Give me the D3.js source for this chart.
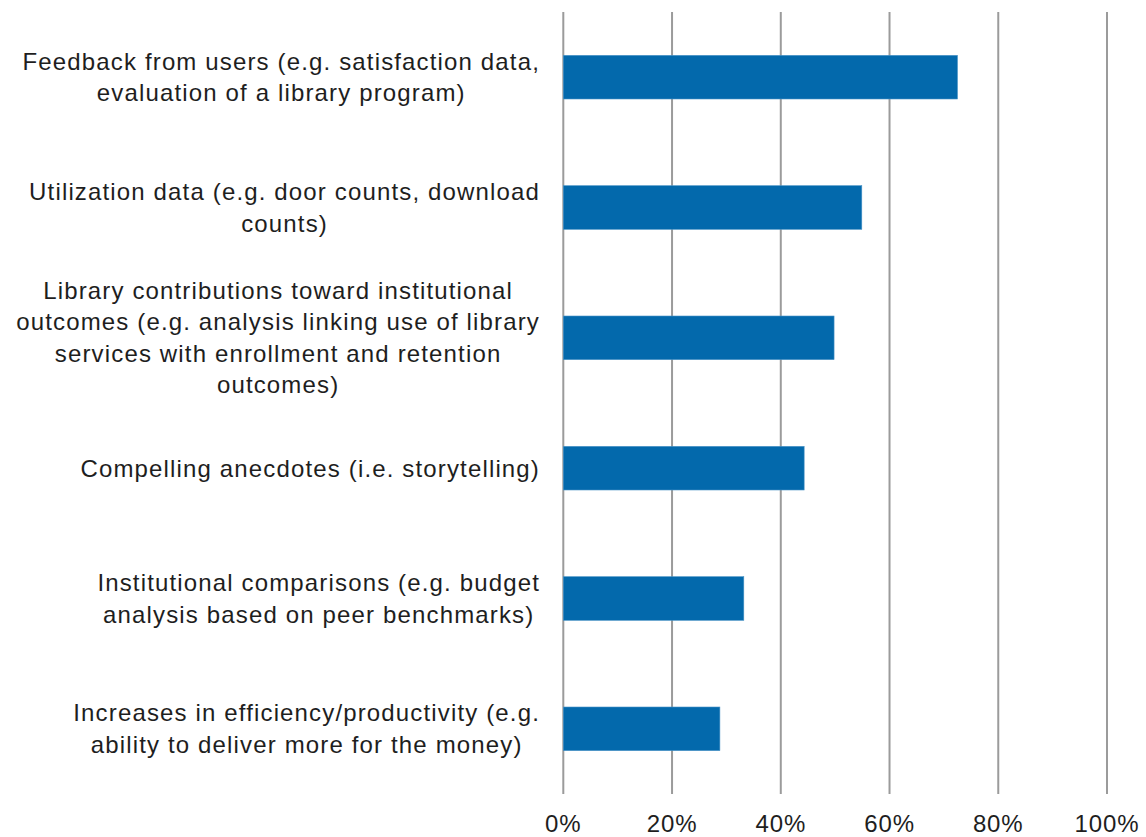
<!DOCTYPE html>
<html>
<head>
<meta charset="utf-8">
<script src="https://cdn.jsdelivr.net/npm/d3@7"></script>
<style>
  html, body { margin: 0; padding: 0; background: #fff; }
  text { font-family: "Liberation Sans", Arial, sans-serif; fill: #1e1e1e; }
</style>
</head>
<body>
<script>
  // categories, one array of wrapped lines each (top to bottom)
  const categories = [
    ["Feedback from users (e.g. satisfaction data,", "evaluation of a library program)"],
    ["Utilization data (e.g. door counts, download", "counts)"],
    ["Library contributions toward institutional", "outcomes (e.g. analysis linking use of library", "services with enrollment and retention", "outcomes)"],
    ["Compelling anecdotes (i.e. storytelling)"],
    ["Institutional comparisons (e.g. budget", "analysis based on peer benchmarks)"],
    ["Increases in efficiency/productivity (e.g.", "ability to deliver more for the money)"]
  ];
  const values = [0.725, 0.549, 0.498, 0.443, 0.332, 0.288];
  const tickValues = [0, 0.2, 0.4, 0.6, 0.8, 1.0];

  const W = 1146, H = 837;
  const plot = { l: 563.3, r: 1107, t: 12, b: 794 };
  const fontSize = 24;
  const spacing = 1.15;
  const lineH = 31.5;
  const labelRight = 540;

  const svg = d3.select("body").append("svg")
    .attr("width", W).attr("height", H);

  const x = d3.scaleLinear().domain([0, 1]).range([plot.l, plot.r]);
  const y = d3.scaleBand()
    .domain(d3.range(categories.length))
    .range([plot.t, plot.b])
    .paddingInner(0.665)
    .paddingOuter(0.3325);

  // vertical gridlines
  svg.append("g")
    .selectAll("line")
    .data(tickValues)
    .join("line")
    .attr("x1", d => x(d)).attr("x2", d => x(d))
    .attr("y1", plot.t).attr("y2", plot.b)
    .attr("stroke", "#9b9b9b")
    .attr("stroke-width", 2);

  // bars
  svg.append("g")
    .selectAll("rect")
    .data(values)
    .join("rect")
    .attr("x", x(0))
    .attr("y", (d, i) => y(i))
    .attr("width", d => x(d) - x(0))
    .attr("height", y.bandwidth())
    .attr("fill", "#0369ac")
    .attr("stroke", "#4a93c6")
    .attr("stroke-width", 0.6);

  // tick labels
  svg.append("g")
    .selectAll("text")
    .data(tickValues)
    .join("text")
    .attr("x", d => x(d))
    .attr("y", 832)
    .attr("text-anchor", "middle")
    .style("font-size", fontSize + "px")
    .style("letter-spacing", "0.9px")
    .text(d3.format(".0%"));

  // category labels: centered lines, block right-aligned to the axis
  const gLab = svg.append("g");
  categories.forEach((lines, i) => {
    const cy = y(i) + y.bandwidth() / 2;
    const g = gLab.append("g");
    const t = g.append("text")
      .attr("text-anchor", "middle")
      .style("font-size", fontSize + "px")
      .style("letter-spacing", spacing + "px");
    const y0 = cy - (lines.length - 1) * lineH / 2;
    lines.forEach((ln, k) => {
      t.append("tspan")
        .attr("x", 0)
        .attr("y", y0 + k * lineH)
        .attr("dy", "0.35em")
        .text(ln);
    });
    const bb = t.node().getBBox();
    g.attr("transform", `translate(${labelRight - bb.width / 2},0)`);
  });
</script>
</body>
</html>
